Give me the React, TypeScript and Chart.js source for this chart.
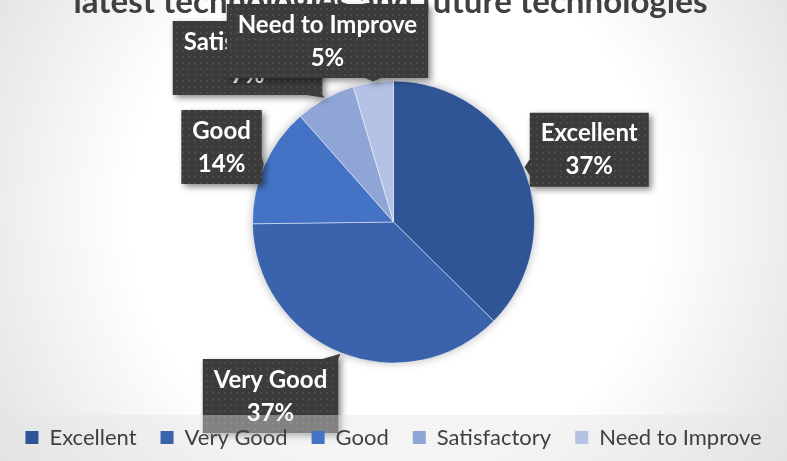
import { useEffect, useRef } from 'react';
import { Chart, registerables } from 'chart.js';

Chart.register(...registerables);

const TITLE = 'latest technologies and future technologies';
const categories = ['Excellent', 'Very Good', 'Good', 'Satisfactory', 'Need to Improve'];
const shares = [37.4, 37.4, 13.7, 6.9, 4.6];
const sliceColors = ['#2F5597', '#3A63AB', '#4472C4', '#8FA5D6', '#B4C2E5'];
// callout placement relative to each slice: distance (x radius) and angle shift (deg)
const calloutDistance = [1.48, 1.511, 1.33, 1.557, 1.367];
const calloutAngleShift = [2.4, 13.3, -0.4, -12.7, -11.76];

const FONT = 'Lato, "Noto Sans", sans-serif';

function makePattern(ctx: CanvasRenderingContext2D) {
  const c = document.createElement('canvas');
  c.width = 6;
  c.height = 6;
  const p = c.getContext('2d')!;
  p.fillStyle = '#3b3b3b';
  p.fillRect(0, 0, 6, 6);
  p.fillStyle = '#4b4b4b';
  p.fillRect(2, 2, 2, 2);
  return ctx.createPattern(c, 'repeat') || '#3b3b3b';
}

export default function App() {
  const ref = useRef<HTMLCanvasElement>(null);

  useEffect(() => {
    const canvas = ref.current!;
    const total = shares.reduce((a, b) => a + b, 0);

    const backgroundPlugin = {
      id: 'bgTitle',
      beforeDraw(chart: any) {
        const ctx = chart.ctx as CanvasRenderingContext2D;
        const w = chart.width;
        const h = chart.height;
        ctx.save();
        const g = ctx.createRadialGradient(w / 2, h * 0.46, 0, w / 2, h * 0.46, 480);
        g.addColorStop(0, '#ffffff');
        g.addColorStop(0.55, '#ffffff');
        g.addColorStop(1, '#e0e0e0');
        ctx.fillStyle = g;
        ctx.fillRect(0, 0, w, h);
        // title
        ctx.font = `bold 40px ${FONT}`;
        const tw = ctx.measureText(TITLE).width;
        const size = (40 * 634) / tw;
        ctx.font = `bold ${size}px ${FONT}`;
        ctx.fillStyle = '#404040';
        ctx.textAlign = 'center';
        ctx.textBaseline = 'alphabetic';
        ctx.fillText(TITLE, w / 2 - 3, 13);
        ctx.restore();
      },
      beforeDatasetsDraw(chart: any) {
        const el = chart.getDatasetMeta(0).data[0] as any;
        if (!el) return;
        const ctx = chart.ctx as CanvasRenderingContext2D;
        ctx.save();
        ctx.shadowColor = 'rgba(0,0,0,0.28)';
        ctx.shadowBlur = 10;
        ctx.beginPath();
        ctx.arc(el.x, el.y, el.outerRadius, 0, Math.PI * 2);
        ctx.fillStyle = '#ffffff';
        ctx.fill();
        ctx.restore();
      },
      beforeLayout(chart: any) {
        const lg = chart.legend;
        if (!lg) return;
        lg._layers = () => [
          {
            z: 1,
            draw: (area: any) => {
              const c = chart.ctx as CanvasRenderingContext2D;
              c.save();
              const top = lg.top + 12.5;
              c.fillStyle = 'rgba(228,228,228,0.42)';
              c.fillRect(0, top, chart.width, chart.height - top);
              c.restore();
              lg.draw(area);
            },
          },
        ];
      },
    };

    const calloutPlugin = {
      id: 'callouts',
      afterDatasetsDraw(chart: any) {
        const ctx = chart.ctx as CanvasRenderingContext2D;
        const meta = chart.getDatasetMeta(0);
        const pattern = makePattern(ctx);
        ctx.save();
        ctx.font = `bold 24px ${FONT}`;
        meta.data.forEach((el: any, i: number) => {
          const { x, y, startAngle, endAngle, outerRadius } = el;
          const mid = (startAngle + endAngle) / 2;
          const ang = mid + (calloutAngleShift[i] * Math.PI) / 180;
          const cx = x + Math.cos(ang) * outerRadius * calloutDistance[i];
          const cy = y + Math.sin(ang) * outerRadius * calloutDistance[i];
          const tipX = x + Math.cos(mid) * (outerRadius + 1);
          const tipY = y + Math.sin(mid) * (outerRadius + 1);
          const l1 = categories[i];
          const l2 = Math.round((shares[i] / total) * 100) + '%';
          const w = Math.max(ctx.measureText(l1).width, ctx.measureText(l2).width) + 22;
          const h = 74;
          const left = cx - w / 2;
          const right = cx + w / 2;
          const top = cy - h / 2;
          const bottom = cy + h / 2;

          ctx.beginPath();
          ctx.rect(left, top, w, h);
          const dxOut = tipX < left ? left - tipX : tipX > right ? tipX - right : 0;
          const dyOut = tipY < top ? top - tipY : tipY > bottom ? tipY - bottom : 0;
          const hw = 8;
          const clamp = (v: number, a: number, b: number) => Math.max(a, Math.min(b, v));
          if (dxOut > 0 || dyOut > 0) {
            if (dxOut >= dyOut) {
              const ex = tipX < left ? left : right;
              const by = clamp(tipY, top + hw, bottom - hw);
              ctx.moveTo(ex, by - hw);
              ctx.lineTo(tipX, tipY);
              ctx.lineTo(ex, by + hw);
              ctx.closePath();
            } else {
              const ey = tipY < top ? top : bottom;
              const bx = clamp(tipX, left + hw, right - hw);
              ctx.moveTo(bx - hw, ey);
              ctx.lineTo(tipX, tipY);
              ctx.lineTo(bx + hw, ey);
              ctx.closePath();
            }
          }
          ctx.save();
          ctx.shadowColor = 'rgba(0,0,0,0.45)';
          ctx.shadowBlur = 6;
          ctx.shadowOffsetX = 3;
          ctx.shadowOffsetY = 3;
          ctx.fillStyle = pattern as any;
          ctx.fill();
          ctx.restore();

          ctx.fillStyle = '#ffffff';
          ctx.textAlign = 'center';
          ctx.textBaseline = 'middle';
          ctx.fillText(l1, cx, cy - 16);
          ctx.fillText(l2, cx, cy + 17);
        });
        ctx.restore();
      },
    };

    const chart = new Chart(canvas, {
      type: 'pie',
      data: {
        labels: categories,
        datasets: [
          {
            data: shares,
            backgroundColor: sliceColors,
            borderColor: 'rgba(255,255,255,0.45)',
            borderWidth: 1,
            radius: 141,
          } as any,
        ],
      },
      options: {
        animation: false,
        responsive: true,
        maintainAspectRatio: false,
        events: [],
        layout: { padding: { top: 41.5, bottom: 2.5, left: 0, right: 0 } },
        plugins: {
          title: { display: false },
          tooltip: { enabled: false },
          legend: {
            position: 'bottom',
            labels: {
              boxWidth: 13,
              boxHeight: 13,
              padding: 24,
              color: '#404040',
              font: { family: FONT, size: 22 },
              generateLabels: () =>
                categories.map((c, i) => ({
                  text: c,
                  fillStyle: sliceColors[i],
                  strokeStyle: sliceColors[i],
                  lineWidth: 0,
                  hidden: false,
                  index: i,
                  fontColor: '#404040',
                })),
            },
          },
        },
      },
      plugins: [backgroundPlugin, calloutPlugin],
    });

    return () => chart.destroy();
  }, []);

  return (
    <div style={{ position: 'fixed', left: 0, top: 0, width: 787, height: 461 }}>
      <canvas ref={ref} />
    </div>
  );
}
